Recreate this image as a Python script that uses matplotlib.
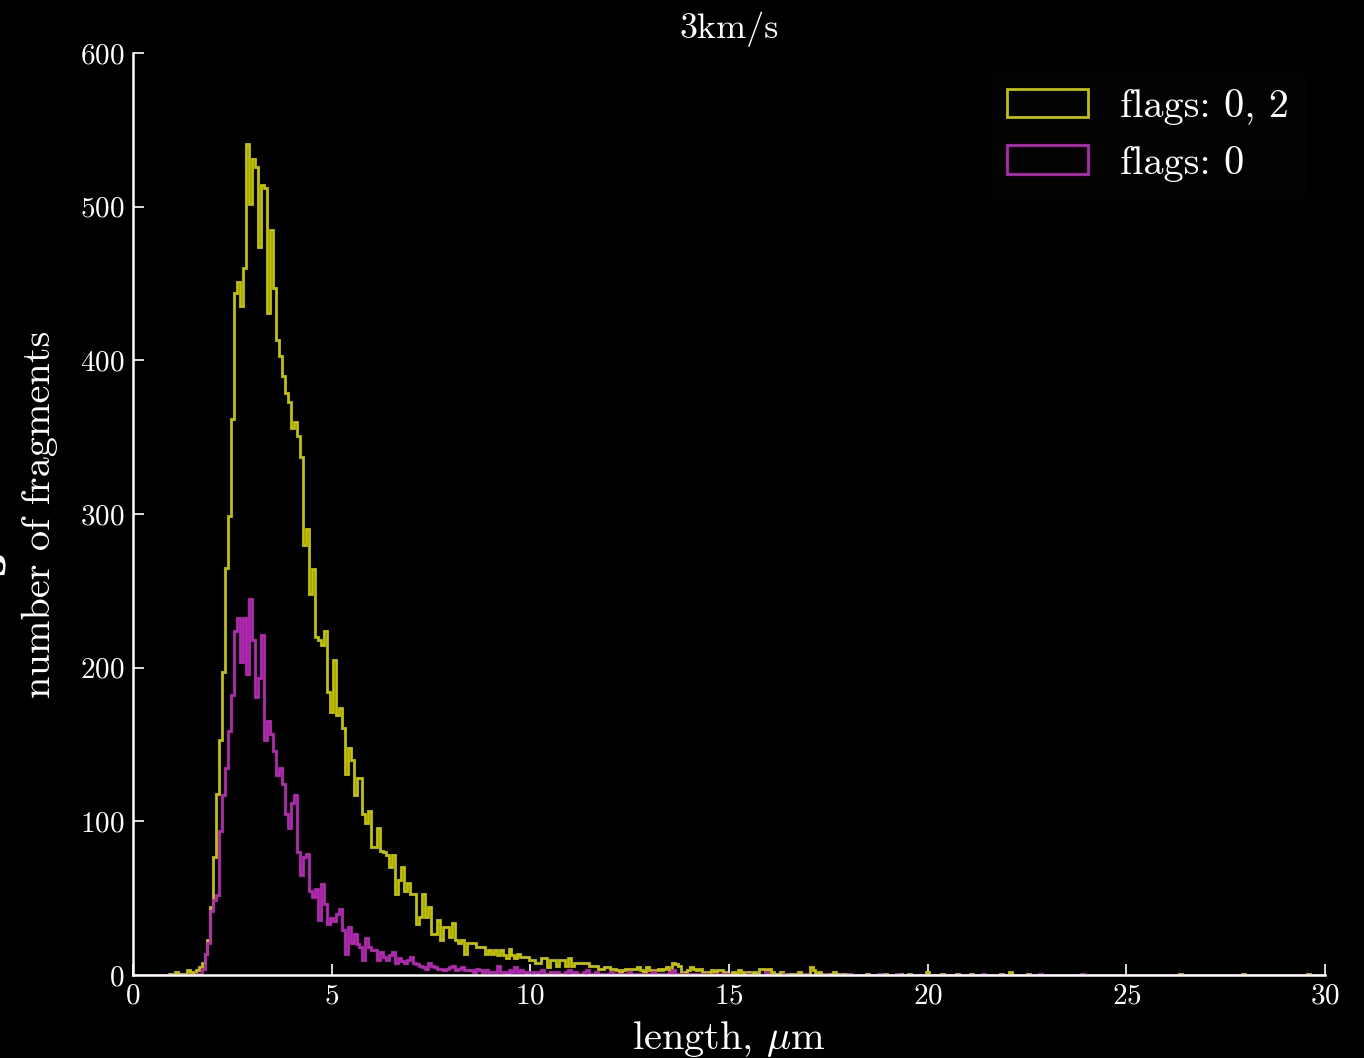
import numpy as np
import matplotlib
matplotlib.use('Agg')
import matplotlib.pyplot as plt

plt.rcParams['font.family'] = 'serif'
plt.rcParams['font.serif'] = ['cmr10']
plt.rcParams['mathtext.fontset'] = 'cm'
plt.rcParams['axes.formatter.use_mathtext'] = True

# histogram of fragment lengths, bin width 0.075 um over 0..30 um
bin_width = 0.075
n_bins = 400

# flags 0,2 : dense part starting at bin 12
y02_start = 12
y02_counts = [1, 0, 2, 1, 1, 0, 3, 2, 1, 3, 5, 8, 14, 23, 44, 77, 118, 153, 197, 265,
              299, 362, 444, 451, 435, 460, 541, 502, 531, 526, 474, 514, 512, 431, 485, 447, 413, 403, 390, 379,
              373, 356, 360, 351, 337, 280, 290, 248, 264, 220, 218, 215, 224, 184, 171, 205, 169, 174, 161, 131,
              148, 140, 117, 128, 128, 105, 99, 107, 83, 83, 96, 81, 80, 78, 70, 78, 53, 62, 70, 55,
              60, 53, 53, 33, 38, 53, 38, 44, 27, 27, 36, 23, 31, 31, 25, 34, 23, 21, 23, 14,
              21, 21, 21, 18, 18, 18, 14, 16, 14, 16, 13, 16, 13, 11, 17, 13, 11, 14, 12, 12,
              12, 10, 10, 8, 8, 11, 11, 5, 10, 10, 6, 10, 10, 6, 11, 6, 8, 8, 8, 8,
              8, 6, 6, 6, 4, 4, 5, 5, 4, 4, 3, 2, 3, 4, 4, 4, 4, 5, 3, 2,
              5, 3, 2, 3, 4, 3, 4, 5, 2, 8, 7, 6, 1, 2, 3, 5, 4, 3, 4, 2,
              1, 2, 3, 2, 3, 3, 2, 1, 1, 2, 1, 3, 2, 1, 2, 1, 2, 1, 4, 4,
              3, 4, 2, 1, 1, 2, 1, 0, 1, 1, 0, 2, 1, 1, 0, 5, 3, 1, 2, 1,
              1, 0, 1, 2, 1, 0, 1, 1, 1]
# flags 0,2 : scattered long fragments (bin index, count)
y02_tail_bins = [246, 252, 257, 260, 266, 271, 276, 281, 291, 294, 300, 351, 372, 394]
y02_tail_counts = [1, 1, 1, 1, 2, 1, 1, 1, 1, 2, 1, 1, 1, 1]

# flags 0 : dense part starting at bin 21
y0_start = 21
y0_counts = [1, 1, 4, 14, 21, 42, 49, 52, 94, 117, 135, 159, 182, 224, 232, 204, 232, 196, 245, 218,
             181, 193, 221, 153, 165, 157, 146, 130, 135, 124, 105, 96, 112, 117, 80, 65, 77, 79, 55, 51,
             56, 36, 59, 46, 33, 37, 35, 40, 43, 29, 14, 31, 21, 27, 20, 18, 10, 24, 18, 16,
             16, 10, 15, 12, 10, 13, 15, 8, 11, 9, 8, 10, 12, 8, 7, 6, 5, 4, 8, 6,
             5, 4, 4, 3, 4, 5, 6, 3, 4, 5, 3, 3, 3, 2, 4, 3, 2, 3, 2, 2,
             2, 6, 2, 2, 1, 3, 2, 5, 2, 3, 2, 1, 2, 2, 1, 2, 3, 1, 1, 2,
             1, 2, 1, 1, 2, 3, 1, 2, 1, 1, 2, 3, 1, 1, 2, 1, 1, 0, 1, 2,
             1, 1, 0, 1, 1, 2, 1, 0, 1, 1, 1, 0, 1, 2, 0, 1, 1, 0, 1, 2,
             3, 1, 0, 1, 0, 1, 1, 0, 1, 0, 1, 1, 0, 0, 1, 0, 1, 0, 1, 0]
y0_tail_bins = [206, 212, 218, 225, 232, 240, 250, 256, 285, 304, 318]
y0_tail_counts = [1, 2, 1, 1, 1, 1, 1, 1, 1, 1, 1]

labels = ['flags: 0, 2', 'flags: 0']
colors = ['#c2c200', '#b428b4']


def full_counts(start, dense, tail_bins, tail_counts):
    c = np.zeros(n_bins)
    c[start:start + len(dense)] = dense
    for b, v in zip(tail_bins, tail_counts):
        c[b] = v
    return c


edges = np.arange(n_bins + 1) * bin_width
centers = edges[:-1] + bin_width / 2
h02 = full_counts(y02_start, y02_counts, y02_tail_bins, y02_tail_counts)
h0 = full_counts(y0_start, y0_counts, y0_tail_bins, y0_tail_counts)

fig = plt.figure(figsize=(13.64, 10.58), dpi=100, facecolor='black')
ax = fig.add_axes([0.0975, 0.0784, 0.874, 0.8716])
ax.set_facecolor('black')

ax.hist(centers, bins=edges, weights=h02, histtype='step', color=colors[0], lw=2.0, label=labels[0])
ax.hist(centers, bins=edges, weights=h0, histtype='step', color=colors[1], lw=2.0, label=labels[1])

ax.set_xlim(0, 30)
ax.set_ylim(0, 600)
ax.set_xticks(np.arange(0, 31, 5))
ax.set_yticks(np.arange(0, 601, 100))

for s in ['top', 'right']:
    ax.spines[s].set_visible(False)
for s in ['left', 'bottom']:
    ax.spines[s].set_color('white')
    ax.spines[s].set_linewidth(1.8)
ax.tick_params(colors='white', direction='in', length=8, width=1.2, labelsize=21, pad=6)

ax.set_xlabel(r'length, $\mu$m', color='white', fontsize=29, labelpad=7)
ax.set_ylabel('number of fragments', color='white', fontsize=29, labelpad=16)
ax.set_title('3km/s', color='white', fontsize=26, pad=11)

leg = ax.legend(fontsize=29, loc='upper right', frameon=True, facecolor='#050505', edgecolor='#050505')
for t in leg.get_texts():
    t.set_color('white')

# partially cut-off label at the left edge of the canvas
fig.text(-0.005, 0.468, 's', color='white', fontsize=30, fontweight='bold',
         family='DejaVu Serif', rotation=90, ha='center', va='center')

fig.savefig('out.png', dpi=100, facecolor='black')
